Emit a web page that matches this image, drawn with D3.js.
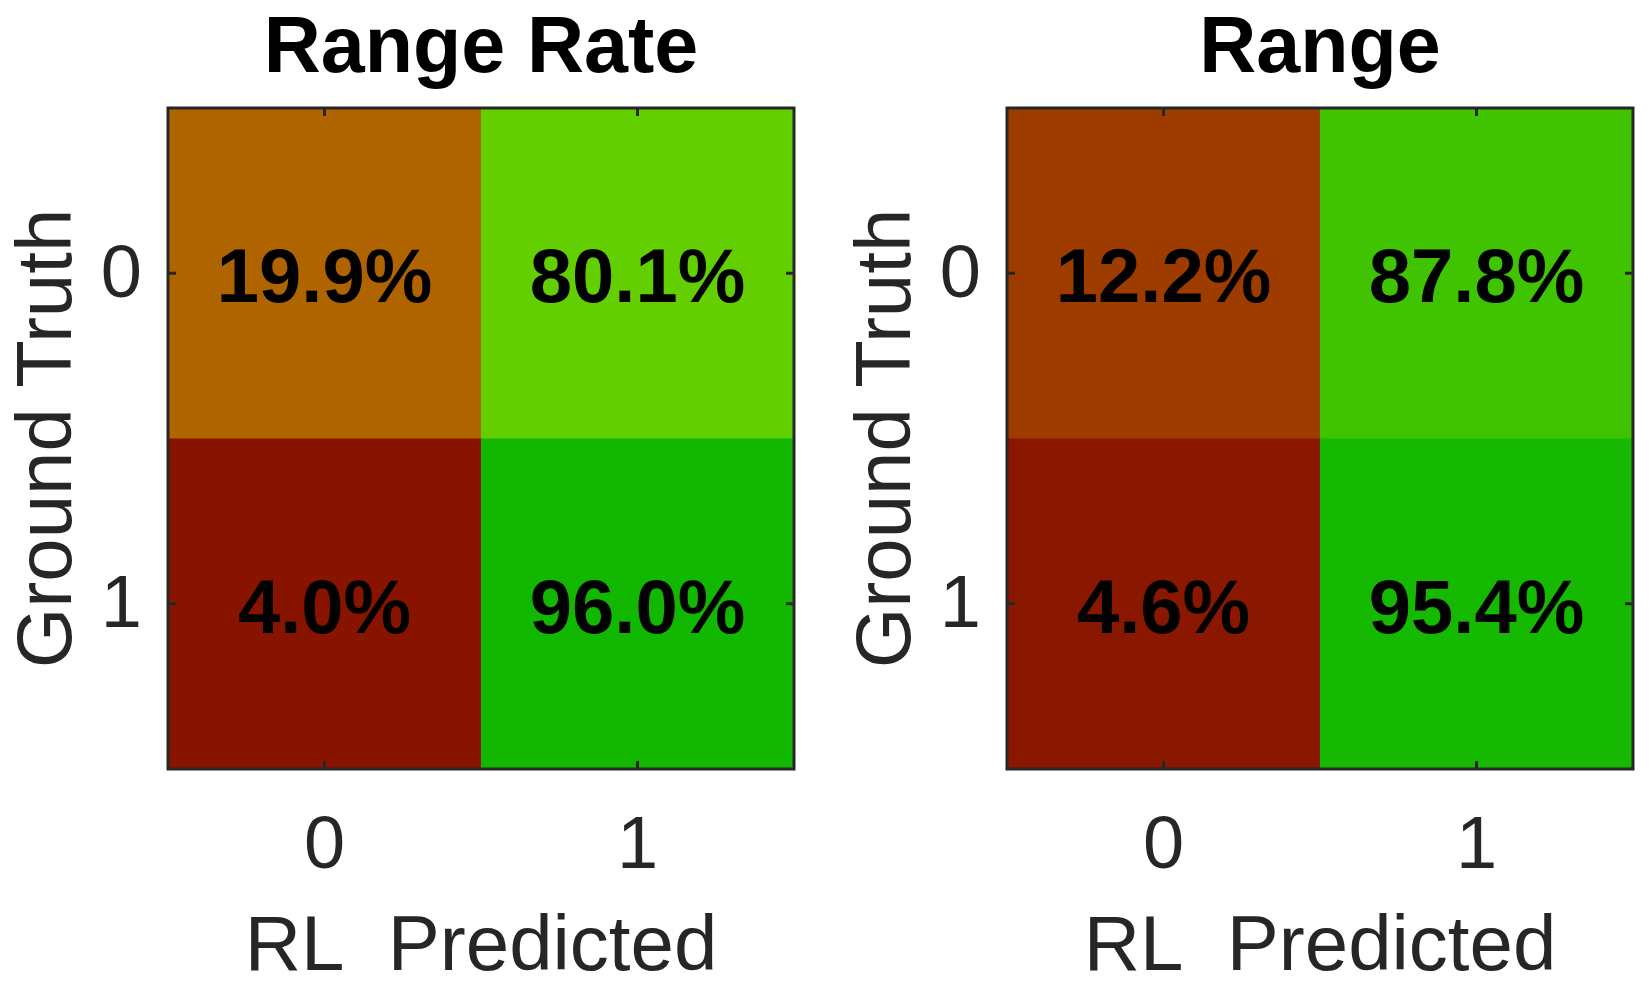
<!DOCTYPE html>
<html>
<head>
<meta charset="utf-8">
<script src="https://cdn.jsdelivr.net/npm/d3@7"></script>
<style>
  body { margin: 0; background: #ffffff; }
  svg text { font-family: "Liberation Sans", Arial, Helvetica, sans-serif; }
</style>
</head>
<body>
<div id="chart"></div>
<script>
// confusion matrices, rows = ground truth, cols = RL predicted
var classes = ['0', '1'];
var titles = ['Range Rate', 'Range'];
var rangeRate = [[19.9, 80.1], [4.0, 96.0]];
var range = [[12.2, 87.8], [4.6, 95.4]];
var panels = [rangeRate, range];

var config = {
    w: 1650,
    h: 993,
    top: 108,
    pw: 626,
    ph: 661,
    lefts: [168, 1007],
    axiscolor: '#262626',
    titlefs: 79,
    fs: 76,
    tickfs: 74,
};

// colour ramp: dark red -> orange .. light green -> green
var color = d3.scaleLinear()
    .domain([4, 12.2, 19.9, 80.1, 87.8, 96])
    .range(['#881400', '#9e3c00', '#b06400', '#63cf00', '#40c300', '#12b800'])
    .clamp(true);

var c = config;
var svg = d3.select('#chart').append('svg')
    .attr('width', c.w)
    .attr('height', c.h);

panels.forEach(function(mat, p) {
    var x0 = c.lefts[p];
    var x = d3.scaleBand().domain(classes).range([x0, x0 + c.pw]);
    var y = d3.scaleBand().domain(classes).range([c.top, c.top + c.ph]);

    var g = svg.append('g');

    var cells = [];
    mat.forEach(function(row, i) {
        row.forEach(function(v, j) {
            cells.push({ r: classes[i], c: classes[j], v: v });
        });
    });

    g.selectAll('rect.cell').data(cells).enter().append('rect')
        .attr('class', 'cell')
        .attr('x', function(d) { return x(d.c); })
        .attr('y', function(d) { return y(d.r); })
        .attr('width', x.bandwidth() + 0.5)
        .attr('height', y.bandwidth() + 0.5)
        .attr('fill', function(d) { return color(d.v); });

    g.selectAll('text.val').data(cells).enter().append('text')
        .attr('class', 'val')
        .attr('x', function(d) { return x(d.c) + x.bandwidth() / 2; })
        .attr('y', function(d) { return y(d.r) + y.bandwidth() / 2; })
        .attr('dy', '0.38em')
        .attr('text-anchor', 'middle')
        .style('font-size', c.fs + 'px')
        .style('font-weight', 'bold')
        .attr('fill', '#000')
        .text(function(d) { return d.v.toFixed(1) + '%'; });

    // axes, ticks pointing inward like matlab
    var styleAxis = function(a) {
        a.select('.domain').remove();
        a.selectAll('line').attr('stroke', c.axiscolor).attr('stroke-width', 3);
        a.selectAll('text').attr('fill', c.axiscolor)
            .style('font-size', c.tickfs + 'px');
    };

    g.append('g')
        .attr('transform', 'translate(0,' + (c.top + c.ph) + ')')
        .call(d3.axisBottom(x).tickSize(-8).tickPadding(46))
        .call(styleAxis);
    g.append('g')
        .attr('transform', 'translate(0,' + c.top + ')')
        .call(d3.axisTop(x).tickSize(-8).tickFormat(''))
        .call(styleAxis);
    g.append('g')
        .attr('transform', 'translate(' + x0 + ',0)')
        .call(d3.axisLeft(y).tickSize(-8).tickPadding(26))
        .call(styleAxis);
    g.append('g')
        .attr('transform', 'translate(' + (x0 + c.pw) + ',0)')
        .call(d3.axisRight(y).tickSize(-8).tickFormat(''))
        .call(styleAxis);

    g.append('rect')
        .attr('x', x0)
        .attr('y', c.top)
        .attr('width', c.pw)
        .attr('height', c.ph)
        .attr('fill', 'none')
        .attr('stroke', c.axiscolor)
        .attr('stroke-width', 3);

    g.append('text')
        .attr('x', x0 + c.pw / 2)
        .attr('y', 72)
        .attr('text-anchor', 'middle')
        .style('font-size', c.titlefs + 'px')
        .style('font-weight', 'bold')
        .attr('fill', '#000')
        .text(titles[p]);

    g.append('text')
        .attr('x', x0 + c.pw / 2)
        .attr('y', 970)
        .attr('text-anchor', 'middle')
        .style('font-size', '78px')
        .attr('fill', c.axiscolor)
        .text('RL\u00a0 Predicted');

    g.append('text')
        .attr('transform', 'translate(' + (x0 - 97) + ',' + (c.top + c.ph / 2) + ') rotate(-90)')
        .attr('text-anchor', 'middle')
        .style('font-size', '78px')
        .attr('fill', c.axiscolor)
        .text('Ground Truth');
});
</script>
</body>
</html>
